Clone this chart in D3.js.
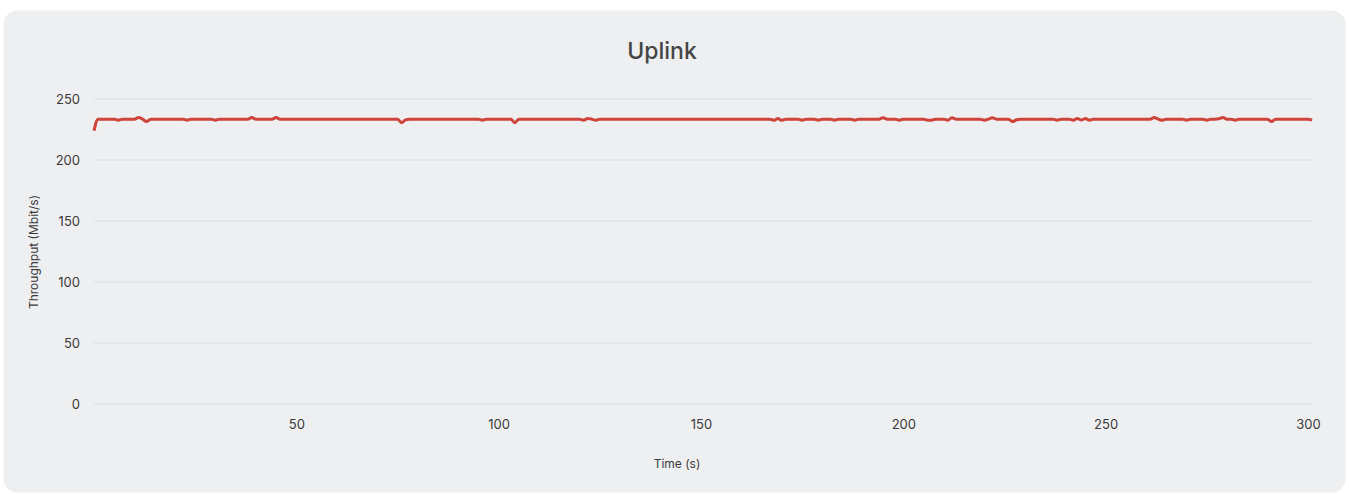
<!DOCTYPE html>
<html>
<head>
<meta charset="utf-8">
<script src="https://cdn.jsdelivr.net/npm/d3@7"></script>
<style>
  html, body { margin: 0; padding: 0; background: #fff; }
  svg { display: block; font-family: "Inter", "Open Sans", sans-serif; }
</style>
</head>
<body>
<div id="chart"></div>
<script>
// chart data, one value per second
var title = "Uplink";
var xLabel = "Time (s)";
var yLabel = "Throughput (Mbit/s)";
var xTicks = [50, 100, 150, 200, 250, 300];
var yTicks = [0, 50, 100, 150, 200, 250];
var throughput = [
  224, 233.5, 233.5, 233.5, 233.5, 233.5, 232.6, 233.5, 233.5, 233.5,
  233.5, 234.8, 233.5, 231.5, 233.5, 233.5, 233.5, 233.5, 233.5, 233.5,
  233.5, 233.5, 233.5, 232.6, 233.5, 233.5, 233.5, 233.5, 233.5, 233.5,
  232.6, 233.5, 233.5, 233.5, 233.5, 233.5, 233.5, 233.5, 233.5, 234.8,
  233.5, 233.5, 233.5, 233.5, 233.5, 234.8, 233.5, 233.5, 233.5, 233.5,
  233.5, 233.5, 233.5, 233.5, 233.5, 233.5, 233.5, 233.5, 233.5, 233.5,
  233.5, 233.5, 233.5, 233.5, 233.5, 233.5, 233.5, 233.5, 233.5, 233.5,
  233.5, 233.5, 233.5, 233.5, 233.5, 233.5, 230.6, 232.9, 233.5, 233.5,
  233.5, 233.5, 233.5, 233.5, 233.5, 233.5, 233.5, 233.5, 233.5, 233.5,
  233.5, 233.5, 233.5, 233.5, 233.5, 233.5, 232.6, 233.5, 233.5, 233.5,
  233.5, 233.5, 233.5, 233.5, 230.6, 233.5, 233.5, 233.5, 233.5, 233.5,
  233.5, 233.5, 233.5, 233.5, 233.5, 233.5, 233.5, 233.5, 233.5, 233.5,
  233.5, 232.6, 234, 233.5, 232.6, 233.5, 233.5, 233.5, 233.5, 233.5,
  233.5, 233.5, 233.5, 233.5, 233.5, 233.5, 233.5, 233.5, 233.5, 233.5,
  233.5, 233.5, 233.5, 233.5, 233.5, 233.5, 233.5, 233.5, 233.5, 233.5,
  233.5, 233.5, 233.5, 233.5, 233.5, 233.5, 233.5, 233.5, 233.5, 233.5,
  233.5, 233.5, 233.5, 233.5, 233.5, 233.5, 233.5, 233.5, 232.5, 234,
  232.5, 233.5, 233.5, 233.5, 233.5, 232.6, 233.5, 233.5, 233.5, 232.6,
  233.5, 233.5, 233.5, 232.6, 233.5, 233.5, 233.5, 233.5, 232.6, 233.5,
  233.5, 233.5, 233.5, 233.5, 233.5, 234.7, 233.5, 233.5, 233.5, 232.6,
  233.5, 233.5, 233.5, 233.5, 233.5, 233.5, 232.6, 232.6, 233.5, 233.5,
  233.5, 232.6, 234.6, 233.5, 233.5, 233.5, 233.5, 233.5, 233.5, 233.5,
  232.6, 233.5, 234.6, 233.5, 233.5, 233.5, 233.5, 231.5, 233, 233.5,
  233.5, 233.5, 233.5, 233.5, 233.5, 233.5, 233.5, 233.5, 232.6, 233.5,
  233.5, 233.5, 232.6, 234, 232.8, 234, 232.6, 233.5, 233.5, 233.5,
  233.5, 233.5, 233.5, 233.5, 233.5, 233.5, 233.5, 233.5, 233.5, 233.5,
  233.5, 233.5, 234.8, 233.5, 232.6, 233.5, 233.5, 233.5, 233.5, 233.5,
  232.6, 233.5, 233.5, 233.5, 233.5, 232.6, 233.5, 233.5, 233.8, 234.8,
  233.5, 233.5, 232.6, 233.5, 233.5, 233.5, 233.5, 233.5, 233.5, 233.5,
  233.5, 231.5, 233.5, 233.5, 233.5, 233.5, 233.5, 233.5, 233.5, 233.5,
  233.5, 232.6
];

var width = 1349;
var height = 494;

var svg = d3.select("#chart")
            .append("svg")
            .attr("width", width)
            .attr("height", height);

// card background
svg.append("rect")
   .attr("x", 3.5)
   .attr("y", 10.5)
   .attr("width", 1342)
   .attr("height", 482)
   .attr("rx", 14)
   .attr("fill", "#eeeff1");

// scales
var x = d3.scaleLinear().domain([0, throughput.length - 1]).range([94, 1312]);
var y = d3.scaleLinear().domain([0, 250]).range([404, 99]);

// gridlines
svg.selectAll("line.grid")
   .data(yTicks)
   .enter()
   .append("line")
   .attr("class", "grid")
   .attr("x1", 94)
   .attr("x2", 1312)
   .attr("y1", function(d) {return y(d);})
   .attr("y2", function(d) {return y(d);})
   .attr("stroke", "#dcdde1")
   .attr("stroke-width", 1);

// y axis labels
var yAxis = svg.append("g")
               .attr("transform", "translate(86,0)")
               .call(d3.axisLeft(y).tickValues(yTicks).tickSize(0).tickPadding(6));
yAxis.select(".domain").remove();
yAxis.selectAll("text")
     .attr("font-size", 13)
     .attr("fill", "#3a3a3a")
     .attr("font-family", "Inter, sans-serif");

// x axis labels
var xAxis = svg.append("g")
               .attr("transform", "translate(0,418)")
               .call(d3.axisBottom(x).tickValues(xTicks).tickSize(0).tickPadding(2));
xAxis.select(".domain").remove();
xAxis.selectAll("text")
     .attr("font-size", 13)
     .attr("fill", "#3a3a3a")
     .attr("font-family", "Inter, sans-serif");

// line
var line = d3.line()
             .x(function(d, i) {return x(i);})
             .y(function(d) {return y(d);})
             .curve(d3.curveMonotoneX);

svg.append("path")
   .datum(throughput)
   .attr("d", line)
   .attr("fill", "none")
   .attr("stroke", "#cf433a")
   .attr("stroke-width", 3)
   .attr("stroke-linejoin", "round");

// titles
svg.append("text")
   .attr("x", 662)
   .attr("y", 59)
   .attr("text-anchor", "middle")
   .attr("font-size", 23)
   .attr("font-weight", 500)
   .attr("fill", "#454545")
   .text(title);

svg.append("text")
   .attr("x", 677)
   .attr("y", 468)
   .attr("text-anchor", "middle")
   .attr("font-size", 12)
   .attr("fill", "#3a3a3a")
   .text(xLabel);

svg.append("text")
   .attr("transform", "translate(38,252) rotate(-90)")
   .attr("text-anchor", "middle")
   .attr("font-size", 12)
   .attr("fill", "#3a3a3a")
   .text(yLabel);
</script>
</body>
</html>
